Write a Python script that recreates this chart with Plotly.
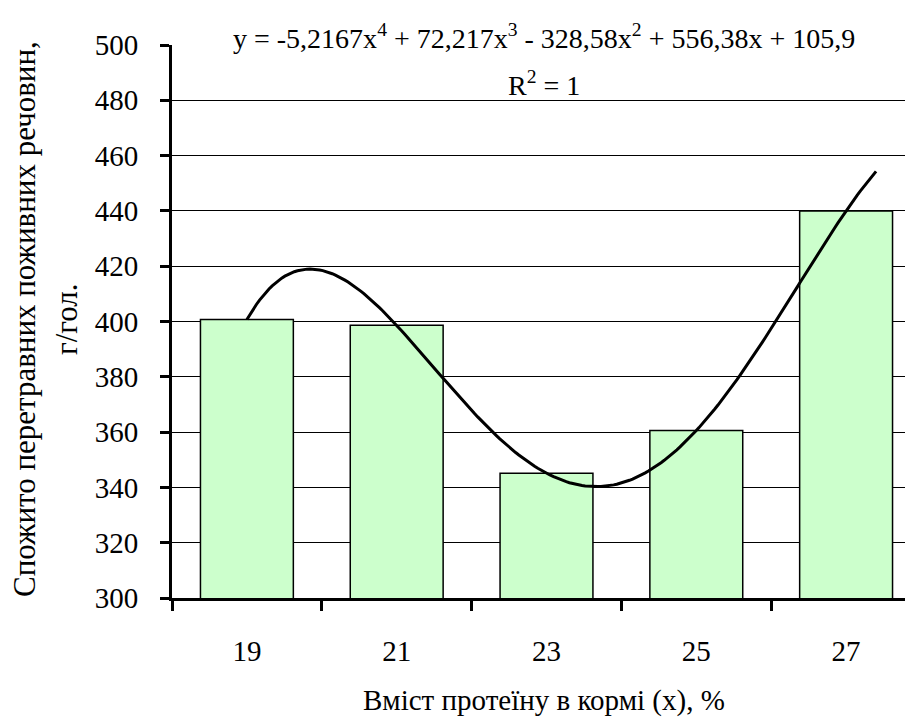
import numpy as np
import plotly.graph_objects as go

# Data
categories = ["19", "21", "23", "25", "27"]
values = [400.7, 398.6, 345.1, 360.6, 440.0]
# trendline coefficients (x^4, x^3, x^2, x, const) as shown in chart
coefs = [-5.2167, 72.217, -328.58, 556.38, 105.9]
forecast_forward = 0.2
y_ticks = [300, 320, 340, 360, 380, 400, 420, 440, 460, 480, 500]
y_title_lines = ["Спожито перетравних поживних речовин,", "г/гол."]

pos = np.arange(1, len(categories) + 1)
xc = np.linspace(1, len(categories) + forecast_forward, 200)
yc = np.polyval(coefs, xc)

FONT = "Liberation Serif"
PW = 749.0
PH = 553.0

fig = go.Figure()
fig.add_trace(go.Bar(
    x=pos, y=values, width=0.62,
    marker=dict(color="#ccffcc", line=dict(color="black", width=1.5)),
    showlegend=False, hoverinfo="skip",
))
fig.add_trace(go.Scatter(
    x=xc, y=yc, mode="lines",
    line=dict(color="black", width=3),
    showlegend=False, hoverinfo="skip",
))

annotations = [
    dict(text="y = -5,2167x<sup>4</sup> + 72,217x<sup>3</sup> - 328,58x<sup>2</sup> + 556,38x + 105,9",
         xref="paper", yref="paper", x=(544 - 172) / PW, y=1.0 + 8 / PH,
         xanchor="center", yanchor="middle", showarrow=False,
         font=dict(family=FONT, size=28)),
    dict(text="R<sup>2</sup> = 1",
         xref="paper", yref="paper", x=(544 - 172) / PW, y=1.0 - 38 / PH,
         xanchor="center", yanchor="middle", showarrow=False,
         font=dict(family=FONT, size=28)),
    dict(text="Вміст протеїну в кормі (х), %",
         xref="paper", yref="paper", x=(544 - 172) / PW, y=-(700 - 598) / PH,
         xanchor="center", yanchor="middle", showarrow=False,
         font=dict(family=FONT, size=29)),
]
for line_text, cx in zip(y_title_lines, [24, 66]):
    annotations.append(dict(
        text=line_text, xref="paper", yref="paper",
        x=-(172 - cx) / PW, y=(598 - 319) / PH,
        xanchor="center", yanchor="middle", textangle=-90, showarrow=False,
        font=dict(family=FONT, size=31)))

fig.update_layout(
    width=913, height=718,
    margin=dict(l=164, r=0, t=37, b=128),
    paper_bgcolor="white", plot_bgcolor="white",
    font=dict(family=FONT, size=29, color="black"),
    xaxis=dict(
        range=[0.5, 5.5],
        tickmode="array", tickvals=list(pos), ticktext=categories,
        ticks="outside", ticklen=0, tickcolor="rgba(0,0,0,0)",
        ticklabelstandoff=25,
        showline=True, linecolor="black", linewidth=3,
        showgrid=False, zeroline=False,
        minor=dict(tickmode="array", tickvals=[0.5, 1.5, 2.5, 3.5, 4.5, 5.5],
                   ticks="outside", ticklen=10, tickwidth=3, tickcolor="black",
                   showgrid=False),
    ),
    yaxis=dict(
        range=[300, 500],
        tickmode="array", tickvals=y_ticks,
        ticks="outside", ticklen=9, tickwidth=3, tickcolor="black",
        ticklabelstandoff=16,
        showline=True, linecolor="black", linewidth=3,
        showgrid=True, gridcolor="black", gridwidth=1,
        zeroline=False,
    ),
    annotations=annotations,
)

fig.write_html("out.html")
